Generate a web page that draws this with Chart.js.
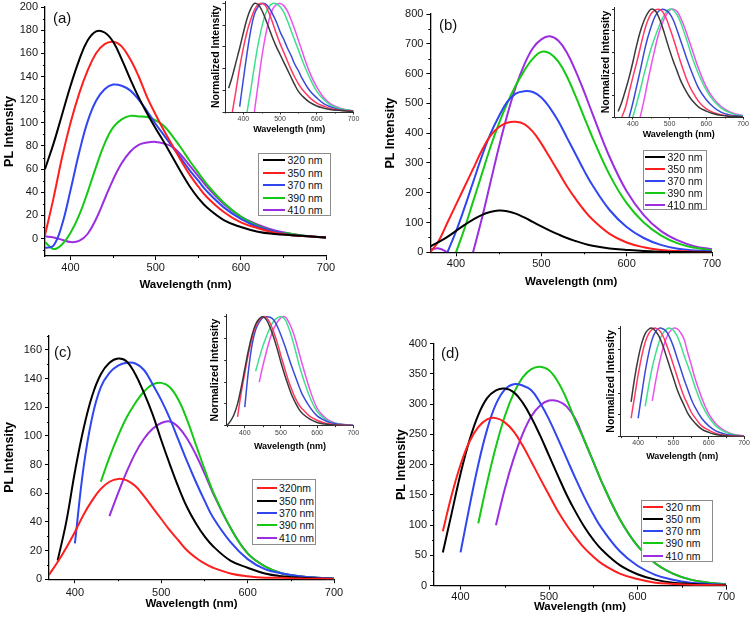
<!DOCTYPE html>
<html><head><meta charset="utf-8">
<script src="https://cdn.jsdelivr.net/npm/chart.js@4.4.1/dist/chart.umd.min.js"></script>
<style>
html,body{margin:0;padding:0;background:#fff;}
#wrap{position:relative;width:756px;height:617px;overflow:hidden;font-family:'Liberation Sans',Arial,sans-serif;background:#fff;}
#wrap canvas{position:absolute;}
.lg{position:absolute;border:1px solid #8c8c8c;background:#fff;box-sizing:border-box;z-index:5;}
.lg .ln{position:absolute;height:2px;}
.lg .tx{position:absolute;font-size:10.5px;line-height:12px;color:#111;white-space:nowrap;}
.pl{position:absolute;font-size:15px;line-height:15px;color:#111;z-index:5;}
</style></head>
<body><div id="wrap"></div>
<script>
// ---------- data ----------
const WL = [370,380,390,400,410,420,430,440,450,460,470,480,490,500,510,520,530,540,550,560,580,600,620,640,660,680,700];
const WL_IN = [350,360,370,380,390,400,410,420,430,440,450,460,470,480,490,500,510,520,530,540,550,560,580,600,620,640,660,680,700];

const LABELS_AB = ['320 nm','350 nm','370 nm','390 nm','410 nm'];
const LABELS_C  = ['320nm','350 nm','370 nm','390 nm','410 nm'];
const LABELS_D  = ['320 nm','350 nm','370 nm','390 nm','410 nm'];

// panel (a)
const a320 = [60,82,107,132,154,171,179,178,170,155,138,122,108,95,83,70,57,45,35,27,16,10,6,4,3,2,1];
const a350 = [3,35,70,100,125,145,160,168,170,166,155,140,122,107,93,80,67,55,45,36,23,14,9,5,3,2,1];
const a370 = [-8,-6,12,42,74,101,119,129,133,132,128,120,110,99,89,79,69,59,50,41,27,17,10,6,3,2,1];
const a390 = [-3,-9,-5,5,20,40,62,82,96,103,106,105.5,105,102,97,88,78,67,57,47,31,19,11,6,4,2,1];
const a410 = [2,1,-1,-3,-2,4,17,34,51,65,75,81,83,83.5,82,79,72,63,54,45,30,19,12,7,4,2,1];
// panel (b)
const b320 = [20,35,52,72,92,110,125,135,140,138,130,117,102,87,73,60,48,38,29,22,13,8,4,2,1,0.5,0];
const b350 = [0,40,100,160,220,280,340,390,420,435,438,430,405,365,318,270,222,180,142,110,62,33,17,8,4,2,1];
const b370 = [null,null,0,70,150,235,320,395,455,505,533,541,538,520,485,440,385,330,275,225,142,85,48,25,12,6,3];
const b390 = [null,null,null,0,80,170,260,350,430,500,560,610,650,673,668,640,590,525,455,385,260,165,100,57,30,15,7];
const b410 = [10,13,0,null,null,0,110,230,350,460,555,630,685,715,725,710,670,610,540,465,320,205,125,72,40,20,10];
// panel (c)
const c320 = [3,12,22,33,45,55,63,68,70,69,65,58,50,42,34,27,20,15,11,8,4,2,1,1,0.5,0.3,0.2];
const c350 = [null,13,40,75,105,128,143,151,154,152,143,130,115,97,80,64,50,39,30,23,13,8,4,2,1,0.5,0.2];
const c370 = [null,null,null,25,78,113,134,144,149,151,150.5,146,136,125,112,97,82,68,55,43,26,14,7,4,2,1,0.5];
const c390 = [null,null,null,null,null,null,68,85,100,113,123,131,136,137,134,125,111,94,77,61,36,18,9,4,2,1,0.5];
const c410 = [null,null,null,null,null,null,null,44,60,75,88,98,105,109,110,106,98,87,74,60,36,18,9,4,2,1,0.5];
// panel (d)
const d320 = [null,90,150,200,238,262,275,277,270,255,232,205,177,150,123,100,80,62,48,36,20,11,5,3,1.5,1,0.5];
const d350 = [null,55,120,185,240,282,310,323,326,320,303,278,248,215,182,150,122,97,76,59,34,19,10,5,3,1.5,1];
const d370 = [null,null,null,55,130,200,258,300,324,333,331,323,302,275,243,210,177,146,118,94,57,33,18,10,5,3,1.5];
const d390 = [null,null,null,null,null,103,170,230,280,318,344,358,362,356,337,308,272,240,205,170,110,66,37,20,10,5,2.5];
const d410 = [null,null,null,null,null,null,null,100,160,210,250,280,298,306,305,296,275,240,205,170,110,66,37,20,10,5,2.5];

// insets (normalized intensity)
const ia320 = [null,0.22,0.33,0.46,0.59,0.73,0.86,0.95,1.0,0.99,0.94,0.86,0.77,0.68,0.6,0.53,0.46,0.39,0.32,0.25,0.19,0.15,0.09,0.055,0.035,0.02,0.015,0.01,0.005];
const ia350 = [null,null,0,0.2,0.41,0.59,0.74,0.85,0.94,0.99,1.0,0.98,0.91,0.82,0.72,0.63,0.55,0.47,0.39,0.32,0.26,0.21,0.135,0.082,0.053,0.03,0.018,0.012,0.006];
const ia370 = [null,null,null,null,0.05,0.3,0.54,0.75,0.9,0.97,1.0,0.995,0.96,0.9,0.83,0.74,0.67,0.59,0.52,0.44,0.38,0.31,0.2,0.13,0.075,0.045,0.023,0.015,0.007];
const ia390 = [null,null,null,null,null,null,0,0.2,0.42,0.62,0.78,0.9,0.97,1.0,0.995,0.97,0.92,0.84,0.75,0.66,0.57,0.48,0.32,0.19,0.11,0.06,0.035,0.02,0.01];
const ia410 = [null,null,null,null,null,null,null,null,0,0.25,0.5,0.7,0.85,0.95,0.99,1.0,0.98,0.93,0.85,0.76,0.66,0.56,0.37,0.23,0.13,0.07,0.04,0.02,0.01];

const ib320 = [null,0.05,0.14,0.25,0.37,0.51,0.66,0.79,0.89,0.96,1.0,0.99,0.93,0.84,0.73,0.62,0.52,0.43,0.34,0.27,0.21,0.16,0.09,0.055,0.03,0.015,0.008,0.004,0];
const ib350 = [null,null,0,0.09,0.23,0.37,0.5,0.64,0.78,0.89,0.96,0.99,1.0,0.98,0.92,0.83,0.73,0.62,0.51,0.41,0.32,0.25,0.14,0.075,0.04,0.02,0.01,0.005,0];
const ib370 = [null,null,null,null,0,0.13,0.28,0.43,0.59,0.73,0.84,0.93,0.98,1.0,0.99,0.96,0.9,0.81,0.71,0.61,0.51,0.42,0.26,0.16,0.09,0.045,0.022,0.011,0.005];
const ib390 = [null,null,null,null,null,0,0.12,0.25,0.39,0.52,0.64,0.74,0.83,0.91,0.97,1.0,0.99,0.95,0.88,0.78,0.68,0.57,0.39,0.25,0.15,0.085,0.045,0.022,0.01];
const ib410 = [null,null,null,null,null,null,null,0,0.15,0.32,0.48,0.63,0.77,0.87,0.94,0.99,1.0,0.98,0.92,0.84,0.74,0.64,0.44,0.28,0.17,0.1,0.055,0.028,0.014];

const ic320 = [0,0.04,0.1,0.2,0.35,0.52,0.69,0.83,0.93,0.98,1.0,0.97,0.9,0.81,0.7,0.58,0.47,0.37,0.28,0.21,0.15,0.11,0.06,0.03,0.015,0.008,0.004,0.002,0];
const ic350 = [null,null,null,0.08,0.3,0.48,0.66,0.8,0.91,0.97,1.0,0.99,0.94,0.86,0.76,0.64,0.53,0.42,0.33,0.25,0.19,0.15,0.085,0.05,0.025,0.013,0.006,0.003,0];
const ic370 = [null,null,null,null,null,0.17,0.5,0.74,0.88,0.95,0.99,1.0,0.995,0.97,0.91,0.83,0.74,0.64,0.54,0.45,0.36,0.28,0.17,0.09,0.05,0.025,0.013,0.007,0.003];
const ic390 = [null,null,null,null,null,null,null,null,0.5,0.62,0.73,0.82,0.9,0.96,0.99,1.0,0.98,0.91,0.81,0.69,0.56,0.45,0.26,0.13,0.065,0.03,0.015,0.007,0.004];
const ic410 = [null,null,null,null,null,null,null,null,null,0.4,0.55,0.68,0.8,0.89,0.95,0.99,1.0,0.96,0.89,0.79,0.67,0.55,0.33,0.16,0.08,0.036,0.018,0.009,0.004];

const id320 = [null,null,null,0.32,0.54,0.72,0.86,0.95,0.99,1.0,0.97,0.92,0.84,0.74,0.64,0.54,0.44,0.36,0.29,0.22,0.17,0.13,0.07,0.04,0.02,0.01,0.005,0.003,0.002];
const id350 = [null,null,null,0.17,0.37,0.57,0.74,0.87,0.95,0.99,1.0,0.98,0.93,0.85,0.76,0.66,0.56,0.46,0.37,0.3,0.23,0.18,0.1,0.06,0.03,0.015,0.009,0.005,0.003];
const id370 = [null,null,null,null,null,0.17,0.39,0.6,0.77,0.9,0.97,1.0,0.995,0.97,0.91,0.83,0.73,0.63,0.53,0.44,0.35,0.28,0.17,0.1,0.054,0.03,0.015,0.009,0.005];
const id390 = [null,null,null,null,null,null,null,0.28,0.47,0.64,0.77,0.88,0.95,0.99,1.0,0.98,0.93,0.85,0.75,0.66,0.57,0.47,0.3,0.18,0.1,0.055,0.028,0.014,0.007];
const id410 = [null,null,null,null,null,null,null,null,null,0.33,0.52,0.68,0.81,0.91,0.97,1.0,0.995,0.96,0.9,0.78,0.67,0.55,0.36,0.21,0.12,0.065,0.033,0.016,0.008];

// tick labels
const X_TICKS = [400,500,600,700];
const Y_TICKS_A = [0,20,40,60,80,100,120,140,160,180,200];
const Y_TICKS_B = [0,100,200,300,400,500,600,700,800];
const Y_TICKS_C = [0,20,40,60,80,100,120,140,160];
const Y_TICKS_D = [0,50,100,150,200,250,300,350,400];
const Y_TICKS_IN = [0,0.2,0.4,0.6,0.8,1.0];

// ---------- styles ----------
const C = {black:'#000000', red:'#ff1e1e', blue:'#2f46f0', green:'#14c814', purple:'#9a2ee0'};
const CI = ['#3a3a3a','#ff3a62','#3a4ad8','#3ee08e','#ec52ec'];
const FONT = "'Liberation Sans', Arial, sans-serif";
Chart.defaults.font.family = FONT;

const wrap = document.getElementById('wrap');

const minorTicks = {
  id:'minorTicks',
  afterDraw(chart, args, o){
    const ctx = chart.ctx;
    ['x','y'].forEach(id=>{
      const len = o[id]; if(!len) return;
      const s = chart.scales[id];
      const vals = s.ticks.map(t=>t.value);
      const step = vals[1]-vals[0];
      ctx.save(); ctx.strokeStyle = o.color || '#000'; ctx.lineWidth = o.lw || 1;
      for(let v = vals[0]-step/2; v <= s.max+1e-9; v += step){
        if (v < s.min-1e-9) continue;
        const p = Math.round(s.getPixelForValue(v))+0.5;
        ctx.beginPath();
        if(id==='x'){ ctx.moveTo(p, s.top); ctx.lineTo(p, s.top+len); }
        else { ctx.moveTo(s.right, p); ctx.lineTo(s.right-len, p); }
        ctx.stroke();
      }
      ctx.restore();
    });
  }
};

function zeroPad(s){ s.paddingLeft=0; s.paddingRight=0; s.paddingTop=0; s.paddingBottom=0; }

function addChart(p){
  const c = document.createElement('canvas');
  c.width = p.w; c.height = p.h;
  Object.assign(c.style,{left:p.x+'px',top:p.y+'px',width:p.w+'px',height:p.h+'px',zIndex:p.z});
  wrap.appendChild(c);
  const datasets = p.series.map(s=>({
    label:s.label,
    data:p.wl.map((w,k)=>({x:w,y:s.values[k]})),
    borderColor:s.color, backgroundColor:s.color, borderWidth:p.lw,
    pointRadius:0, fill:false, tension:0.4, spanGaps:false
  }));
  const axisCol = p.inset ? '#2a2a2a' : '#000';
  new Chart(c,{
    type:'line',
    data:{datasets},
    options:{
      responsive:false, animation:false, devicePixelRatio:1,
      layout:{padding:{left:0,top:p.area.t,right:p.w-p.area.r,bottom:0}},
      plugins:{legend:{display:false},tooltip:{enabled:false},
        minorTicks:{x:p.minorX,y:p.minorY,color:axisCol,lw:1}},
      scales:{
        x:{type:'linear',min:p.xr[0],max:p.xr[1],
          afterBuildTicks:s=>{s.ticks=p.xt.map(v=>({value:v}));},
          afterFit:s=>{s.height=p.h-p.area.b; zeroPad(s);},
          ticks:{autoSkip:false,maxRotation:0,minRotation:0,padding:p.xpad,color:p.inset?'#404040':'#161616',
            font:{size:p.inset?7:11,lineHeight:1.2}},
          grid:{drawOnChartArea:false,drawTicks:true,tickLength:p.inset?2.5:4,color:axisCol,lineWidth:1},
          border:{display:true,color:axisCol,width:p.inset?1:1.3},
          title:{display:true,text:'Wavelength (nm)',color:'#000',
            font:{size:p.inset?9:11.5,weight:'bold',lineHeight:1},padding:{top:0,bottom:p.xtp}}
        },
        y:{type:'linear',min:p.yr[0],max:p.yr[1],
          afterBuildTicks:s=>{s.ticks=p.yt.map(v=>({value:v}));},
          afterFit:s=>{s.width=p.area.l; zeroPad(s);},
          ticks:{display:!p.inset,autoSkip:false,padding:3,color:'#161616',font:{size:11,lineHeight:1.2}},
          grid:{drawOnChartArea:false,drawTicks:true,tickLength:p.inset?2.5:4,color:axisCol,lineWidth:1},
          border:{display:true,color:axisCol,width:p.inset?1:1.3},
          title:{display:true,text:p.inset?'Normalized Intensity':'PL Intensity',color:'#000',
            font:{size:p.inset?10.5:12.5,weight:'bold',lineHeight:1},padding:{top:p.ytp,bottom:0}}
        }
      }
    },
    plugins:[minorTicks]
  });
}

function mkSeries(labels, arrays, colors){
  return arrays.map((v,i)=>({label:labels[i],values:v,color:colors[i]}));
}

function addLegend(L, series){
  const d = document.createElement('div'); d.className='lg';
  Object.assign(d.style,{left:L.x+'px',top:L.y+'px',width:L.w+'px',height:L.h+'px'});
  series.forEach((s,i)=>{
    const cy = L.row0 + i*L.gap - L.y - 1;
    const ln = document.createElement('div'); ln.className='ln';
    Object.assign(ln.style,{left:(L.lx-L.x-1)+'px',top:(cy-1)+'px',width:L.ll+'px',background:s.color});
    const tx = document.createElement('div'); tx.className='tx'; tx.textContent=s.label;
    Object.assign(tx.style,{left:(L.tx-L.x-1)+'px',top:(cy-6)+'px'});
    d.appendChild(ln); d.appendChild(tx);
  });
  wrap.appendChild(d);
}
function addLabel(text,x,cy){
  const d=document.createElement('div'); d.className='pl'; d.textContent=text;
  Object.assign(d.style,{left:x+'px',top:(cy-8)+'px'}); wrap.appendChild(d);
}

// ---------- panels ----------
const sA = mkSeries(LABELS_AB,[a320,a350,a370,a390,a410],[C.black,C.red,C.blue,C.green,C.purple]);
const sB = mkSeries(LABELS_AB,[b320,b350,b370,b390,b410],[C.black,C.red,C.blue,C.green,C.purple]);
const sC = mkSeries(LABELS_C,[c320,c350,c370,c390,c410],[C.red,C.black,C.blue,C.green,C.purple]);
const sD = mkSeries(LABELS_D,[d320,d350,d370,d390,d410],[C.red,C.black,C.blue,C.green,C.purple]);

addChart({x:0,y:0,w:378,h:300,z:1,area:{l:45,r:326,t:7,b:256},wl:WL,series:sA,lw:2,
  xr:[370,700],yr:[-15,200],xt:X_TICKS,yt:Y_TICKS_A,minorX:2,minorY:2,xpad:1,xtp:9.25,ytp:3.75});
addChart({x:378,y:0,w:378,h:300,z:1,area:{l:52.4,r:334,t:14,b:252.3},wl:WL,series:sB,lw:2,
  xr:[370,700],yr:[0,800],xt:X_TICKS,yt:Y_TICKS_B,minorX:2,minorY:2,xpad:1.4,xtp:12.5,ytp:6.25});
addChart({x:0,y:300,w:378,h:317,z:1,area:{l:49,r:334,t:35.6,b:279.2},wl:WL,series:sC,lw:2,
  xr:[370,700],yr:[0,170],xt:X_TICKS,yt:Y_TICKS_C,minorX:2,minorY:2,xpad:2.7,xtp:7.25,ytp:3});
addChart({x:378,y:300,w:378,h:317,z:1,area:{l:56,r:348,t:43.7,b:285.7},wl:WL,series:sD,lw:2,
  xr:[370,700],yr:[0,400],xt:X_TICKS,yt:Y_TICKS_D,minorX:2,minorY:2,xpad:0.4,xtp:4.5,ytp:17});

const iLabels = LABELS_AB;
addChart({inset:true,x:190,y:0,w:188,h:145,z:2,area:{l:35,r:163.5,t:1.3,b:112},wl:WL_IN,
  series:mkSeries(iLabels,[ia320,ia350,ia370,ia390,ia410],CI),lw:1.5,
  xr:[350,700],yr:[0,1.02],xt:X_TICKS,yt:Y_TICKS_IN,minorX:1.5,minorY:0,xpad:0,xtp:10.5,ytp:20.75});
addChart({inset:true,x:580,y:0,w:176,h:145,z:2,area:{l:34.5,r:163,t:7,b:117},wl:WL_IN,
  series:mkSeries(iLabels,[ib320,ib350,ib370,ib390,ib410],CI),lw:1.5,
  xr:[350,700],yr:[0,1.02],xt:X_TICKS,yt:Y_TICKS_IN,minorX:1.5,minorY:0,xpad:0,xtp:5.5,ytp:20.45});
addChart({inset:true,x:190,y:300,w:188,h:160,z:2,area:{l:36.7,r:163.3,t:14.5,b:125.7},wl:WL_IN,
  series:mkSeries(iLabels,[ic320,ic350,ic370,ic390,ic410],CI),lw:1.5,
  xr:[350,700],yr:[0,1.02],xt:X_TICKS,yt:Y_TICKS_IN,minorX:1.5,minorY:0,xpad:1,xtp:8.8,ytp:19.75});
addChart({inset:true,x:585,y:300,w:171,h:165,z:2,area:{l:35.5,r:159,t:26,b:136.7},wl:WL_IN,
  series:mkSeries(iLabels,[id320,id350,id370,id390,id410],CI),lw:1.5,
  xr:[350,700],yr:[0,1.02],xt:X_TICKS,yt:Y_TICKS_IN,minorX:1.5,minorY:0,xpad:0,xtp:3.8,ytp:21});

addLegend({x:258,y:152.5,w:73,h:63,row0:160,gap:12.5,lx:262.5,ll:22,tx:287.5},sA);
addLegend({x:643,y:150,w:64,h:60,row0:156.5,gap:12.1,lx:645,ll:20,tx:667.5},sB);
addLegend({x:251.5,y:479,w:64,h:66,row0:488.3,gap:12.3,lx:256.5,ll:20,tx:279},sC);
addLegend({x:641,y:500,w:72,h:62,row0:506.7,gap:12.2,lx:643,ll:20,tx:665.5},sD);

addLabel('(a)',53,18);
addLabel('(b)',439,25);
addLabel('(c)',54,351.7);
addLabel('(d)',441,353);
</script>
</body></html>
